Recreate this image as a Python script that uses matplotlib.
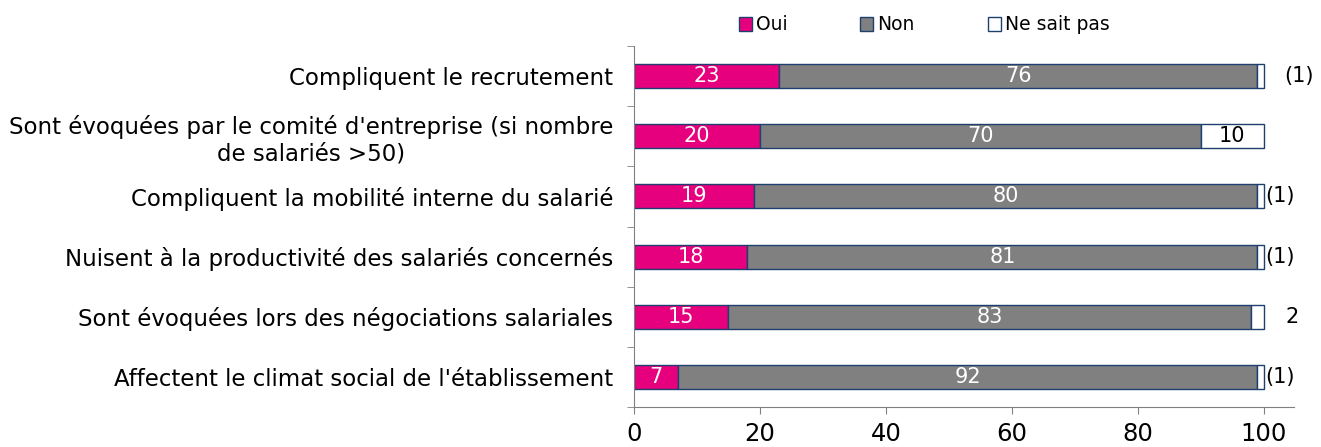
import matplotlib.pyplot as plt
from matplotlib.patches import Patch

categories = ["Compliquent le recrutement",
              "Sont évoquées par le comité d'entreprise (si nombre\nde salariés >50)",
              "Compliquent la mobilité interne du salarié",
              "Nuisent à la productivité des salariés concernés",
              "Sont évoquées lors des négociations salariales",
              "Affectent le climat social de l'établissement"]
oui = [23, 20, 19, 18, 15, 7]
non = [76, 70, 80, 81, 83, 92]
nsp = [1, 10, 1, 1, 2, 1]
nsp_labels = ["(1)", "10", "(1)", "(1)", "2", "(1)"]
series_names = ["Oui", "Non", "Ne sait pas"]

magenta = "#E6007E"
grey = "#808080"
edge = "#1F3F6F"

plt.rcParams['font.family'] = ['DejaVu Sans']

fig = plt.figure(figsize=(13.21, 4.47), dpi=100)
ax = fig.add_axes([634/1321, 40/447, 660/1321, 361/447])

y = list(range(len(categories)))[::-1]
h = 0.4
left2 = [a + b for a, b in zip(oui, non)]
ax.barh(y, oui, height=h, color=magenta, edgecolor=edge, linewidth=1)
ax.barh(y, non, left=oui, height=h, color=grey, edgecolor=edge, linewidth=1)
ax.barh(y, nsp, left=left2, height=h, color="white", edgecolor=edge, linewidth=1)

for i in range(len(categories)):
    ax.text(oui[i] / 2, y[i], str(oui[i]), ha="center", va="center",
            color="white", fontsize=15)
    ax.text(oui[i] + non[i] / 2, y[i], str(non[i]), ha="center", va="center",
            color="white", fontsize=15)
    lab = nsp_labels[i]
    if nsp[i] >= 5:
        ax.text(left2[i] + nsp[i] / 2, y[i], lab, ha="center", va="center",
                color="black", fontsize=15)
    elif i == 0:
        ax.text(105.6, y[i], lab, ha="center", va="center", fontsize=15)
    elif lab == "2":
        ax.text(104.5, y[i], lab, ha="center", va="center", fontsize=15)
    else:
        ax.text(100.2, y[i], lab, ha="left", va="center", fontsize=15)

ax.set_xlim(0, 104.8)
ax.set_ylim(-0.5, len(categories) - 0.5)
ax.set_xticks([0, 20, 40, 60, 80, 100])
ax.set_yticks(y)
ax.set_yticklabels(categories, fontsize=16.5, ha="right", multialignment="center")
ax.set_yticks([v + 0.5 for v in range(-1, len(categories))], minor=True)
ax.tick_params(axis="y", which="major", length=0, pad=15)
ax.tick_params(axis="y", which="minor", length=5, color="#808080", direction="out")
ax.tick_params(axis="x", length=5, color="#808080", labelsize=17.5, pad=6)
for s in ["top", "right"]:
    ax.spines[s].set_visible(False)
ax.spines["left"].set_color("#808080")
ax.spines["bottom"].set_color("#808080")

handles = [Patch(facecolor=c, edgecolor=edge) for c in [magenta, grey, "white"]]
fig.legend(handles, series_names, loc="center", bbox_to_anchor=(924/1321, 1 - 25/447),
           ncol=3, frameon=False, fontsize=13.5, handlelength=0.7, handleheight=0.7,
           handletextpad=0.2, columnspacing=3.9)

fig.savefig("out.png", dpi=100)
